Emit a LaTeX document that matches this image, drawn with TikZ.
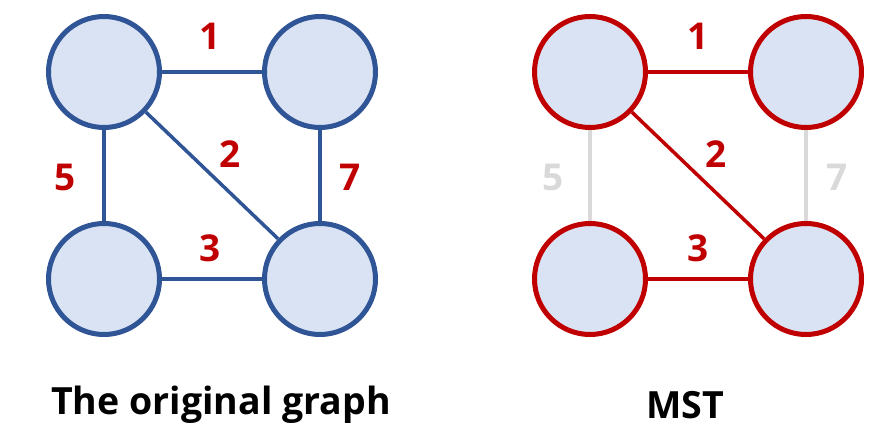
\documentclass[tikz,border=0pt]{standalone}
\usepackage{fontspec}
\setmainfont{Open Sans}
\definecolor{nblue}{HTML}{2F5597}
\definecolor{nfill}{HTML}{DAE3F3}
\definecolor{nred}{HTML}{C00000}
\definecolor{ngray}{HTML}{D9D9D9}
\begin{document}
\begin{tikzpicture}[x=1pt,y=-1pt,
  vtx/.style={circle,minimum size=111pt,inner sep=0pt,fill=nfill,line width=5pt},
  bvtx/.style={vtx,draw=nblue},
  rvtx/.style={vtx,draw=nred},
  bedge/.style={draw=nblue,line width=3.5pt},
  redge/.style={draw=nred,line width=3.5pt},
  gedge/.style={draw=ngray,line width=3.5pt},
  wlab/.style={font=\bfseries\fontsize{37}{37}\selectfont,text=nred},
  glab/.style={wlab,text=ngray},
  title/.style={font=\bfseries\fontsize{37.5}{37.5}\selectfont,text=black}]
\useasboundingbox (0,0) rectangle (883,446);
% left graph
\node[bvtx] (a1) at (104,72) {};
\node[bvtx] (b1) at (320,72) {};
\node[bvtx] (c1) at (104,279) {};
\node[bvtx] (d1) at (320,279) {};
\draw[bedge] (a1) -- (b1);
\draw[bedge] (a1) -- (c1);
\draw[bedge] (a1) -- (d1);
\draw[bedge] (b1) -- (d1);
\draw[bedge] (c1) -- (d1);
\node[wlab] (l11) at (210,36) {1};
\node[wlab] (l15) at (65,177) {5};
\node[wlab] (l12) at (230,154) {2};
\node[wlab] (l17) at (350,177) {7};
\node[wlab] (l13) at (210,248) {3};
\node[title] (t1) at (221,405) {The original graph};
% right graph
\node[rvtx] (a2) at (590,72) {};
\node[rvtx] (b2) at (806,72) {};
\node[rvtx] (c2) at (590,279) {};
\node[rvtx] (d2) at (806,279) {};
\draw[redge] (a2) -- (b2);
\draw[gedge] (a2) -- (c2);
\draw[redge] (a2) -- (d2);
\draw[gedge] (b2) -- (d2);
\draw[redge] (c2) -- (d2);
\node[wlab] (l21) at (698,36) {1};
\node[glab] (l25) at (553,177) {5};
\node[wlab] (l22) at (716,154) {2};
\node[glab] (l27) at (837,177) {7};
\node[wlab] (l23) at (698,248) {3};
\node[title] (t2) at (685,405) {MST};
\end{tikzpicture}
\end{document}
